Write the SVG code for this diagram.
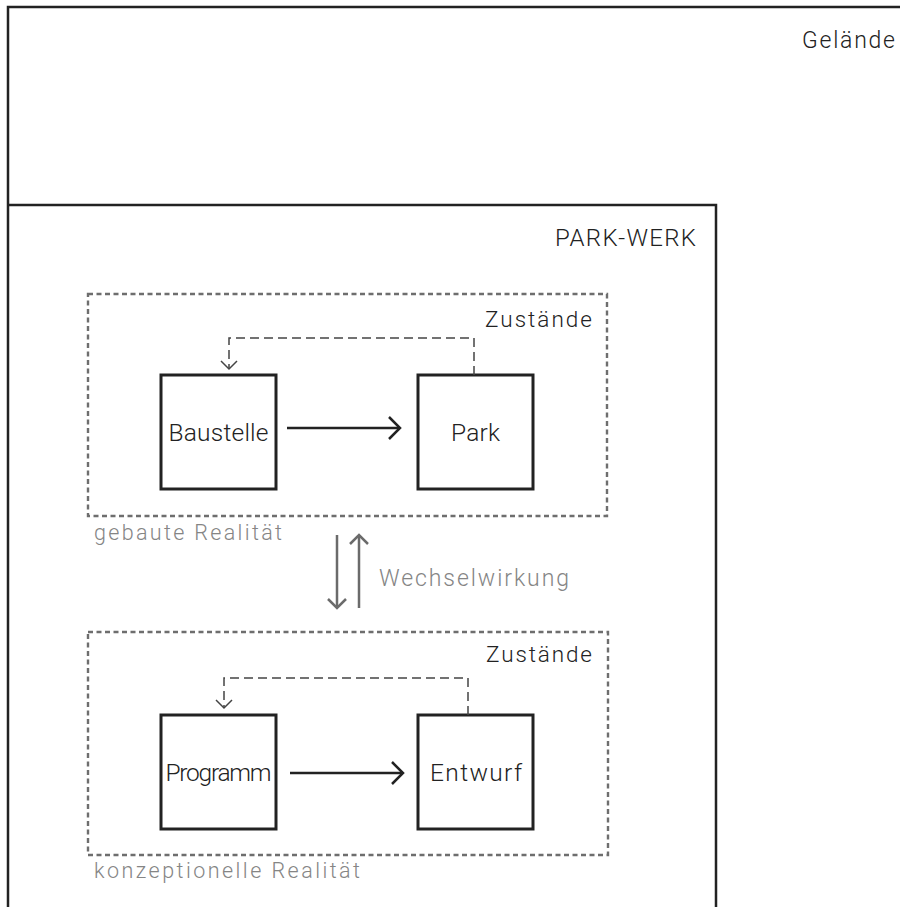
<svg xmlns="http://www.w3.org/2000/svg" width="900" height="907" viewBox="0 0 900 907">
  <style>
    text { font-family: Roboto, "Liberation Sans", Arial, sans-serif; font-weight: 300; }
    .dark { fill: #222; }
    .gray { fill: #858585; }
    .frame { fill: none; stroke: #222; stroke-width: 2.5; }
    .zone { fill: none; stroke: #6e6e6e; stroke-width: 2.4; stroke-dasharray: 5 3.5; }
    .node { fill: #fff; stroke: #222; stroke-width: 3; }
    .flow { fill: none; stroke: #222; stroke-width: 2.3; marker-end: url(#chev); }
    .loop { fill: none; stroke: #444; stroke-width: 1.5; stroke-dasharray: 9 5; marker-end: url(#chev-thin); }
    .inter { fill: none; stroke: #6b6b6b; stroke-width: 2.5; marker-end: url(#chev-gray); }
  </style>
  <defs>
    <marker id="chev" markerUnits="userSpaceOnUse" viewBox="-15 -15 30 30" markerWidth="30" markerHeight="30" refX="0" refY="0" orient="auto" overflow="visible">
      <path d="M-11,-11 L0,0 L-11,11" fill="none" stroke="#222" stroke-width="2.5"/>
    </marker>
    <marker id="chev-thin" markerUnits="userSpaceOnUse" viewBox="-15 -15 30 30" markerWidth="30" markerHeight="30" refX="0" refY="0" orient="auto" overflow="visible">
      <path d="M-8,-8 L0,0 L-8,8" fill="none" stroke="#444" stroke-width="1.5"/>
    </marker>
    <marker id="chev-gray" markerUnits="userSpaceOnUse" viewBox="-15 -15 30 30" markerWidth="30" markerHeight="30" refX="0" refY="0" orient="auto" overflow="visible">
      <path d="M-9,-9 L0,0 L-9,9" fill="none" stroke="#6b6b6b" stroke-width="2.5"/>
    </marker>
  </defs>

  <rect width="900" height="907" fill="#fff"/>

  <!-- site frame -->
  <g id="gelaende">
    <path class="frame" d="M910,7 H8 V915"/>
    <text class="dark" x="895" y="48" font-size="23" text-anchor="end" textLength="93" lengthAdjust="spacing">Gelände</text>
  </g>

  <!-- park work frame -->
  <g id="park-werk">
    <path class="frame" d="M8,205 H716 V915"/>
    <text class="dark" x="696" y="246" font-size="24" text-anchor="end" textLength="141" lengthAdjust="spacing">PARK-WERK</text>
  </g>

  <!-- built reality -->
  <g id="gebaute-realitaet">
    <rect class="zone" x="88" y="294" width="519" height="222"/>
    <text class="dark" x="592" y="327" font-size="22.5" text-anchor="end" textLength="107" lengthAdjust="spacing">Zustände</text>
    <text class="gray" x="94" y="540" font-size="21.5" textLength="188" lengthAdjust="spacing">gebaute Realität</text>
  </g>

  <g id="baustelle">
    <rect class="node" x="161" y="375" width="115" height="114"/>
    <text class="dark" x="218.5" y="441" font-size="24.5" text-anchor="middle" textLength="100" lengthAdjust="spacing">Baustelle</text>
  </g>

  <g id="park">
    <rect class="node" x="418" y="375" width="115" height="114"/>
    <text class="dark" x="475.5" y="441" font-size="24.5" text-anchor="middle" textLength="49" lengthAdjust="spacing">Park</text>
  </g>

  <!-- conceptual reality -->
  <g id="konzeptionelle-realitaet">
    <rect class="zone" x="88" y="632" width="520" height="223"/>
    <text class="dark" x="592" y="662" font-size="22.5" text-anchor="end" textLength="106" lengthAdjust="spacing">Zustände</text>
    <text class="gray" x="94" y="878" font-size="21.5" textLength="266" lengthAdjust="spacing">konzeptionelle Realität</text>
  </g>

  <g id="programm">
    <rect class="node" x="161" y="715" width="115" height="114"/>
    <text class="dark" x="218.5" y="781" font-size="24.5" text-anchor="middle" textLength="106" lengthAdjust="spacing">Programm</text>
  </g>

  <g id="entwurf">
    <rect class="node" x="418" y="715" width="115" height="114"/>
    <text class="dark" x="476" y="781" font-size="24.5" text-anchor="middle" textLength="92" lengthAdjust="spacing">Entwurf</text>
  </g>

  <!-- interaction label -->
  <g id="wechselwirkung">
    <text class="gray" x="379" y="586" font-size="23" textLength="190" lengthAdjust="spacing">Wechselwirkung</text>
  </g>

  <!-- connectors -->
  <g id="connectors">
    <path class="flow" d="M287,428 H400"/>
    <path class="loop" d="M474,375 V338 H229 V369"/>
    <path class="flow" d="M290,773 H403"/>
    <path class="loop" d="M468,715 V678 H224 V708"/>
    <path class="inter" d="M337,535 V608"/>
    <path class="inter" d="M359,608 V535"/>
  </g>
</svg>
